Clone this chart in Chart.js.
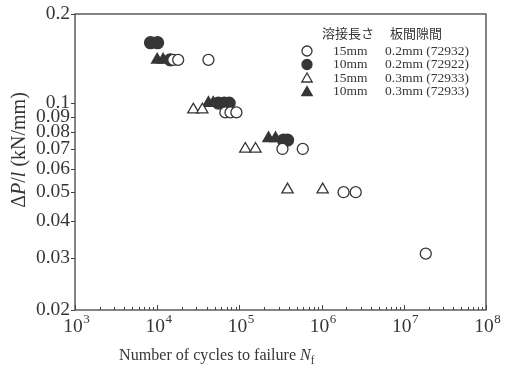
<!DOCTYPE html>
<html><head><meta charset="utf-8">
<script src="https://cdn.jsdelivr.net/npm/chart.js@4/dist/chart.umd.min.js"></script>
<style>html,body{margin:0;padding:0;background:#fff}#wrap{width:507px;height:376px}</style>
</head><body><div id="wrap"><canvas id="c" width="507" height="376"></canvas></div>
<script>
// ---- data ----
const legendHeader = ['溶接長さ', '板間隙間'];
const legendLength = ['15mm', '10mm', '15mm', '10mm'];
const legendGap = ['0.2mm (72932)', '0.2mm (72922)', '0.3mm (72933)', '0.3mm (72933)'];

const openCircleN = [15700, 18000, 42000, 67500, 78000, 92000, 334000, 590000, 1850000, 2600000, 18500000];
const openCircleP = [0.14, 0.14, 0.14, 0.093, 0.093, 0.093, 0.07, 0.07, 0.05, 0.05, 0.031];
const filledCircleN = [8300, 10100, 14400, 55500, 65500, 75000, 344000, 385000];
const filledCircleP = [0.16, 0.16, 0.14, 0.1, 0.1, 0.1, 0.075, 0.075];
const openTriN = [27500, 35400, 118000, 157000, 385000, 1030000];
const openTriP = [0.095, 0.095, 0.07, 0.07, 0.051, 0.051];
const filledTriN = [10000, 11800, 42000, 48000, 226000, 275000];
const filledTriP = [0.14, 0.14, 0.1, 0.1, 0.076, 0.076];

const yTickValues = [0.02, 0.03, 0.04, 0.05, 0.06, 0.07, 0.08, 0.09, 0.1, 0.2];
const yTickLabels = ['0.02', '0.03', '0.04', '0.05', '0.06', '0.07', '0.08', '0.09', '0.1', '0.2'];
const xTickExponents = [3, 4, 5, 6, 7, 8];

const SERIF = '"Liberation Serif", "DejaVu Serif", serif';
const INK = '#363636';

function pts(xs, ys) { return xs.map((x, i) => ({ x: x, y: ys[i] })); }

const markerStyles = [
  { shape: 'circle', r: 5.5, fill: '#fff' },
  { shape: 'circle', r: 6, fill: INK },
  { shape: 'triangle', r: 6.5, fill: '#fff' },
  { shape: 'triangle', r: 6.5, fill: INK }
];

function mk(data, st) {
  return {
    data: data,
    pointStyle: st.shape,
    pointRadius: st.r,
    pointBackgroundColor: st.fill,
    pointBorderColor: INK,
    pointBorderWidth: 1.3,
    showLine: false
  };
}

function drawMarker(ctx, st, x, y) {
  ctx.save();
  ctx.beginPath();
  if (st.shape === 'circle') {
    ctx.arc(x, y, st.r, 0, Math.PI * 2);
  } else {
    const r = st.r;
    let rad = 0;
    ctx.moveTo(x + Math.sin(rad) * r, y - Math.cos(rad) * r);
    rad += 2 * Math.PI / 3;
    ctx.lineTo(x + Math.sin(rad) * r, y - Math.cos(rad) * r);
    rad += 2 * Math.PI / 3;
    ctx.lineTo(x + Math.sin(rad) * r, y - Math.cos(rad) * r);
    ctx.closePath();
  }
  ctx.fillStyle = st.fill;
  ctx.fill();
  ctx.lineWidth = 1.3;
  ctx.strokeStyle = INK;
  ctx.stroke();
  ctx.restore();
}

const decor = {
  id: 'decor',
  afterDraw(chart) {
    const ctx = chart.ctx;
    const a = chart.chartArea;
    const xs = chart.scales.x, ys = chart.scales.y;
    ctx.save();
    // frame
    ctx.strokeStyle = '#444';
    ctx.lineWidth = 1.3;
    ctx.strokeRect(a.left, a.top, a.right - a.left, a.bottom - a.top);
    // x ticks (inward)
    ctx.lineWidth = 1;
    for (let e = 3; e <= 8; e++) {
      for (let m = 1; m <= 9; m++) {
        if (e === 8 && m > 1) break;
        const px = xs.getPixelForValue(m * Math.pow(10, e));
        const len = m === 1 ? 5 : 3;
        ctx.beginPath();
        ctx.moveTo(Math.round(px) + 0.5, a.bottom);
        ctx.lineTo(Math.round(px) + 0.5, a.bottom - len);
        ctx.stroke();
      }
    }
    // y ticks (outward)
    yTickValues.forEach(v => {
      const py = ys.getPixelForValue(v);
      ctx.beginPath();
      ctx.moveTo(a.left - 4, Math.round(py) + 0.5);
      ctx.lineTo(a.left, Math.round(py) + 0.5);
      ctx.stroke();
    });
    // y tick labels
    ctx.fillStyle = INK;
    ctx.font = '19.5px ' + SERIF;
    ctx.textAlign = 'right';
    ctx.textBaseline = 'middle';
    yTickValues.forEach((v, i) => {
      ctx.fillText(yTickLabels[i], a.left - 5, ys.getPixelForValue(v));
    });
    // x tick labels 10^n
    ctx.textBaseline = 'alphabetic';
    xTickExponents.forEach(e => {
      const px = xs.getPixelForValue(Math.pow(10, e));
      ctx.font = '19.5px ' + SERIF;
      ctx.textAlign = 'center';
      ctx.fillText('10', px - 2, 332);
      const w = ctx.measureText('10').width;
      ctx.font = '13px ' + SERIF;
      ctx.textAlign = 'left';
      ctx.fillText(String(e), px - 2 + w / 2 + 0.5, 323);
    });
    // x title (slightly condensed)
    ctx.save();
    ctx.translate(119, 360);
    ctx.scale(0.92, 1);
    let tx = 0;
    ctx.textAlign = 'left';
    ctx.font = '17.5px ' + SERIF;
    const t1 = 'Number of cycles to failure ';
    ctx.fillText(t1, tx, 0); tx += ctx.measureText(t1).width;
    ctx.font = 'italic 17.5px ' + SERIF;
    ctx.fillText('N', tx, 0); tx += ctx.measureText('N').width;
    ctx.font = '12px ' + SERIF;
    ctx.fillText('f', tx, 4);
    ctx.restore();
    // y title (rotated)
    ctx.save();
    ctx.translate(25, 150);
    ctx.rotate(-Math.PI / 2);
    const parts = [['Δ', ''], ['P', 'italic '], ['/', ''], ['l', 'italic '], [' (kN/mm)', '']];
    let total = 0;
    parts.forEach(p => { ctx.font = p[1] + '20px ' + SERIF; total += ctx.measureText(p[0]).width; });
    let yx = -total / 2;
    parts.forEach(p => { ctx.font = p[1] + '20px ' + SERIF; ctx.fillText(p[0], yx, 0); yx += ctx.measureText(p[0]).width; });
    ctx.restore();
    // legend
    ctx.font = '13px "Noto Sans CJK JP", sans-serif';
    ctx.textBaseline = 'middle';
    ctx.fillText(legendHeader[0], 322, 33);
    ctx.fillText(legendHeader[1], 390, 33);
    ctx.font = '13.5px ' + SERIF;
    const rowY = [51, 64.5, 78, 91.5];
    for (let i = 0; i < 4; i++) {
      const st = Object.assign({}, markerStyles[i], { r: markerStyles[i].shape === 'circle' ? 5 : 6 });
      drawMarker(ctx, st, 307, rowY[i] + (st.shape === 'triangle' ? 1 : 0));
      ctx.fillStyle = INK;
      ctx.fillText(legendLength[i], 333, rowY[i]);
      ctx.fillText(legendGap[i], 385, rowY[i]);
    }
    ctx.restore();
  }
};

new Chart(document.getElementById('c'), {
  type: 'scatter',
  data: {
    datasets: [
      mk(pts(openCircleN, openCircleP), markerStyles[0]),
      mk(pts(filledCircleN, filledCircleP), markerStyles[1]),
      mk(pts(openTriN, openTriP), markerStyles[2]),
      mk(pts(filledTriN, filledTriP), markerStyles[3])
    ]
  },
  options: {
    responsive: false,
    animation: false,
    devicePixelRatio: 1,
    layout: { padding: { left: 0, top: 14, right: 21, bottom: 0 } },
    plugins: { legend: { display: false }, tooltip: { enabled: false } },
    scales: {
      x: {
        type: 'logarithmic', min: 1e3, max: 1e8,
        grid: { display: false }, border: { display: false },
        ticks: { display: false },
        afterFit(s) { s.height = 66; }
      },
      y: {
        type: 'logarithmic', min: 0.02, max: 0.2,
        grid: { display: false }, border: { display: false },
        ticks: { display: false },
        afterFit(s) { s.width = 75; }
      }
    }
  },
  plugins: [decor]
});
</script>
</body></html>
